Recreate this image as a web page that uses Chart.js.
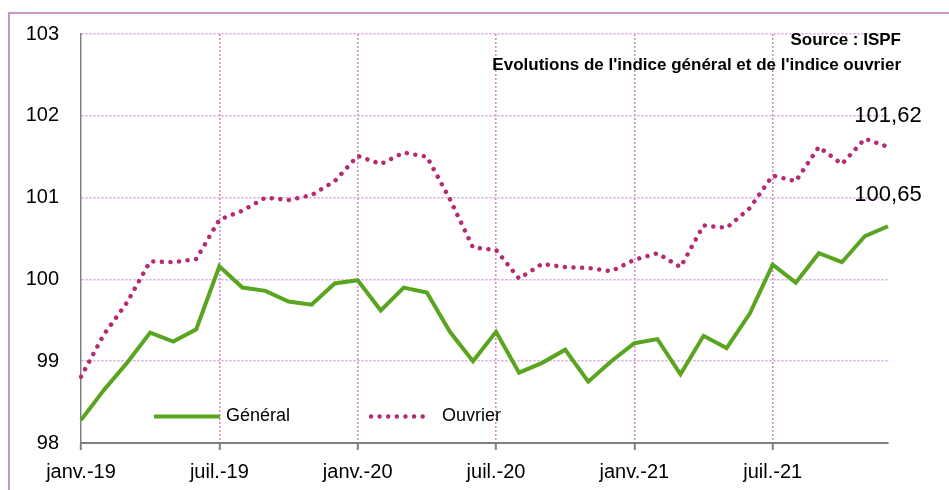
<!DOCTYPE html>
<html>
<head>
<meta charset="utf-8">
<script src="https://cdn.jsdelivr.net/npm/chart.js@4/dist/chart.umd.min.js"></script>
<style>
    body { margin: 0; background: #fff; }
    #wrap { position: relative; width: 949px; height: 490px; overflow: hidden; background: #fff; }
    #frame { position: absolute; left: 8px; top: 12px; width: 960px; height: 500px; border-left: 2px solid #c994c9; border-top: 2px solid #c994c9; pointer-events: none; }
    canvas { position: absolute; left: 0; top: 0; }
</style>
</head>
<body>
<div id="wrap">
    <canvas id="chart" width="949" height="490"></canvas>
    <div id="frame"></div>
</div>
<script>
// --- data ---
const months = [
    'janv.-19','févr.-19','mars-19','avr.-19','mai-19','juin-19','juil.-19','août-19','sept.-19','oct.-19','nov.-19','déc.-19',
    'janv.-20','févr.-20','mars-20','avr.-20','mai-20','juin-20','juil.-20','août-20','sept.-20','oct.-20','nov.-20','déc.-20',
    'janv.-21','févr.-21','mars-21','avr.-21','mai-21','juin-21','juil.-21','août-21','sept.-21','oct.-21','nov.-21','déc.-21'
];
const shownTicks = ['janv.-19','juil.-19','janv.-20','juil.-20','janv.-21','juil.-21'];

const general = [98.28, 98.65, 98.98, 99.35, 99.24, 99.39, 100.16, 99.90, 99.86, 99.73, 99.69, 99.95,
                 99.99, 99.62, 99.90, 99.84, 99.36, 99.00, 99.36, 98.86, 98.98, 99.14, 98.75, 99.00,
                 99.22, 99.27, 98.84, 99.31, 99.16, 99.58, 100.18, 99.96, 100.32, 100.21, 100.53, 100.65];
const ouvrier = [98.81, 99.33, 99.72, 100.22, 100.21, 100.25, 100.73, 100.84, 101.00, 100.97, 101.03, 101.20,
                 101.51, 101.41, 101.55, 101.50, 100.98, 100.39, 100.36, 100.01, 100.19, 100.15, 100.14, 100.10,
                 100.24, 100.32, 100.15, 100.66, 100.63, 100.87, 101.27, 101.20, 101.62, 101.41, 101.72, 101.62];

const titleLines = ['Source : ISPF', "Evolutions de l'indice général et de l'indice ouvrier"];

const FONT = "'Liberation Sans', Arial, sans-serif";
const GREEN = '#5aa51f';
const PLUM = '#b52a72';
const GRID = '#cf8fcf';
const HGRID = '#d9a0d9';
const AXIS = '#808080';

// title block, top right
const titlePlugin = {
    id: 'titleBlock',
    afterDraw(chart) {
        const ctx = chart.ctx;
        ctx.save();
        ctx.fillStyle = '#000';
        ctx.font = `bold 17px ${FONT}`;
        ctx.textAlign = 'right';
        ctx.textBaseline = 'middle';
        ctx.fillText(titleLines[0], 901, 40);
        ctx.fillText(titleLines[1], 901, 65);
        ctx.restore();
    }
};

// last value label above each line end
const endLabels = {
    id: 'endLabels',
    afterDatasetsDraw(chart) {
        const ctx = chart.ctx;
        ctx.save();
        ctx.fillStyle = '#000';
        ctx.font = `22px ${FONT}`;
        ctx.textAlign = 'center';
        ctx.textBaseline = 'middle';
        chart.data.datasets.forEach((ds, i) => {
            const pts = chart.getDatasetMeta(i).data;
            const p = pts[pts.length - 1];
            const v = ds.data[ds.data.length - 1];
            ctx.fillText(v.toFixed(2).replace('.', ','), p.x, p.y - 31);
        });
        ctx.restore();
    }
};

// legend drawn inside the plot, bottom left
const innerLegend = {
    id: 'innerLegend',
    afterDatasetsDraw(chart) {
        const { ctx, chartArea } = chart;
        const y = chartArea.bottom - 26.5;
        const items = [
            { x0: chartArea.left + 73, x1: chartArea.left + 139, tx: chartArea.left + 145 },
            { x0: chartArea.left + 290, x1: chartArea.left + 346, tx: chartArea.left + 361 }
        ];
        ctx.save();
        chart.data.datasets.forEach((ds, i) => {
            const it = items[i];
            ctx.beginPath();
            ctx.strokeStyle = ds.borderColor;
            ctx.lineWidth = ds.borderWidth;
            ctx.lineCap = ds.borderCapStyle || 'butt';
            ctx.setLineDash(ds.borderDash || []);
            ctx.moveTo(it.x0, y);
            ctx.lineTo(it.x1, y);
            ctx.stroke();
            ctx.setLineDash([]);
            ctx.fillStyle = '#000';
            ctx.font = `18px ${FONT}`;
            ctx.textAlign = 'left';
            ctx.textBaseline = 'middle';
            ctx.fillText(ds.label, it.tx, y);
        });
        ctx.restore();
    }
};

const chart = new Chart(document.getElementById('chart'), {
    type: 'line',
    data: {
        labels: months,
        datasets: [
            { label: 'Général', data: general, borderColor: GREEN, borderWidth: 4, pointRadius: 0, tension: 0, borderJoinStyle: 'miter', borderCapStyle: 'butt' },
            { label: 'Ouvrier', data: ouvrier, borderColor: PLUM, borderWidth: 4.5, pointRadius: 0, tension: 0, borderDash: [0.01, 8.6], borderCapStyle: 'round' }
        ]
    },
    options: {
        responsive: false,
        devicePixelRatio: 1,
        animation: false,
        layout: { padding: { top: 33.5, right: 61, left: 0, bottom: 0 } },
        plugins: { legend: { display: false }, tooltip: { enabled: false } },
        scales: {
            x: {
                offset: false,
                afterFit: s => { s.height = 47; },
                ticks: {
                    autoSkip: false, maxRotation: 0, minRotation: 0,
                    color: '#000', font: { family: FONT, size: 20 }, padding: 10,
                    callback: function (v) { const l = this.getLabelForValue(v); return shownTicks.includes(l) ? l : ''; }
                },
                grid: {
                    color: c => (c.index > 0 && months[c.index] && shownTicks.includes(months[c.index])) ? GRID : 'rgba(0,0,0,0)',
                    lineWidth: 1.6,
                    tickColor: c => (months[c.index] && shownTicks.includes(months[c.index])) ? AXIS : 'rgba(0,0,0,0)',
                    tickWidth: 2,
                    tickLength: 7,
                    tickBorderDash: []
                },
                border: { display: true, color: AXIS, width: 2, dash: [2, 2] }
            },
            y: {
                min: 98, max: 103,
                afterFit: s => { s.width = 81; },
                ticks: { stepSize: 1, color: '#000', font: { family: FONT, size: 20 }, padding: 22 },
                grid: { color: HGRID, lineWidth: 1.5, drawTicks: false },
                border: { display: true, color: AXIS, width: 1.5, dash: [2, 2] }
            }
        }
    },
    plugins: [titlePlugin, endLabels, innerLegend]
});
</script>
</body>
</html>
